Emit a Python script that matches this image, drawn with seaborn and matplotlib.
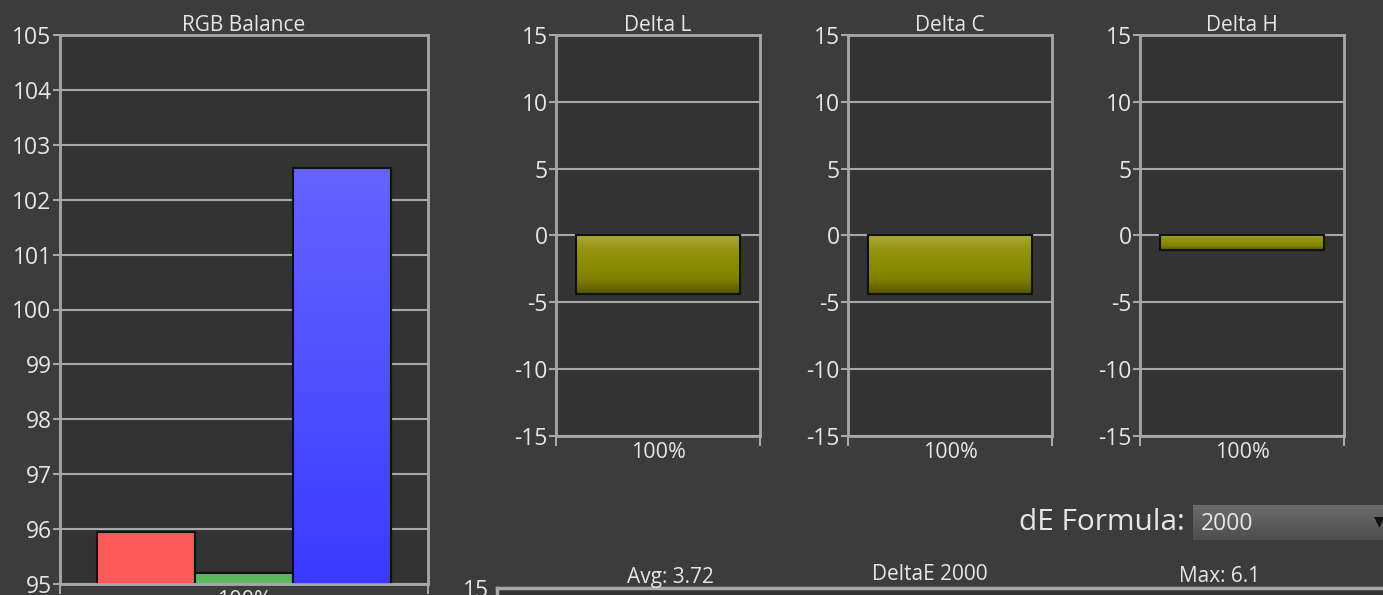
import numpy as np
import matplotlib
matplotlib.use("Agg")
import matplotlib.pyplot as plt
import matplotlib.colors as mcolors
import seaborn as sns

# --- data ---
rgb_channels = ["Red", "Green", "Blue"]
rgb_values = [95.95, 95.2, 102.57]
rgb_colors = ["#ff5a5a", "#5cb85c", "#4848ff"]

delta_titles = ["Delta L", "Delta C", "Delta H"]
delta_values = [-4.35, -4.35, -1.05]
x_label = "100%"

avg_de = "Avg: 3.72"
max_de = "Max: 6.1"
de_formula = "2000"

# --- style ---
sns.set_style("dark")
plt.rcParams["font.family"] = ["Open Sans", "DejaVu Sans"]
BG = "#3c3c3c"
PANEL = "#333333"
LINE = "#a8a8a8"
TXT = "#e6e6e6"

W, H = 1383, 595
fig = plt.figure(figsize=(W / 100, H / 100), dpi=100, facecolor=BG)


def px_axes(left, top, right, bottom):
    return fig.add_axes([left / W, 1 - bottom / H, (right - left) / W, (bottom - top) / H])


def style_axes(ax, ticks, ylim):
    ax.set_facecolor(PANEL)
    ax.set_ylim(*ylim)
    ax.set_xlim(-0.5, 0.5)
    ax.set_yticks(ticks)
    ax.set_yticklabels([str(t) for t in ticks])
    ax.grid(False)
    for t in ticks:
        ax.axhline(t, color=LINE, lw=1.5, zorder=0.5)
    for s in ax.spines.values():
        s.set_color(LINE)
        s.set_linewidth(2)
    ax.tick_params(axis="y", colors=LINE, labelcolor=TXT, labelsize=16.5,
                   length=5, width=1.5, pad=1, left=True)
    ax.set_xticks([0])
    ax.set_xticklabels([x_label])
    ax.tick_params(axis="x", length=0, labelcolor=TXT, labelsize=15.5, pad=4)
    ax.set_xticks([-0.5, 0.5], minor=True)
    ax.tick_params(axis="x", which="minor", length=7, width=1.5, color=LINE, bottom=True)
    ax.set_xlabel("")
    ax.set_ylabel("")


def gradient_fill(ax, patch, stops):
    # paint a vertical gradient inside a bar, keeping the axis limits
    xlim, ylim = ax.get_xlim(), ax.get_ylim()
    x0, y0 = patch.get_x(), patch.get_y()
    w, h = patch.get_width(), patch.get_height()
    ylo, yhi = min(y0, y0 + h), max(y0, y0 + h)
    ylo, yhi = max(ylo, ylim[0]), min(yhi, ylim[1])
    cmap = mcolors.LinearSegmentedColormap.from_list("g", stops)
    grad = np.linspace(0, 1, 256).reshape(-1, 1)
    ax.imshow(grad, cmap=cmap, aspect="auto", origin="lower",
              extent=[x0, x0 + w, ylo, yhi], zorder=2.1)
    ax.add_patch(plt.Rectangle((x0, ylo), w, yhi - ylo, fill=False, ec="#111111",
                               lw=1.5, zorder=2.2))
    ax.set_xlim(xlim)
    ax.set_ylim(ylim)


# --- RGB balance ---
ax = px_axes(60, 35, 428, 584)
sns.barplot(x=[x_label] * 3, y=rgb_values, hue=rgb_channels, palette=rgb_colors,
            width=0.8, saturation=1, ax=ax, legend=False, edgecolor="#111111",
            linewidth=1.5, zorder=2)
style_axes(ax, list(range(95, 106)), (95, 105))
ax.set_title("RGB Balance", color=TXT, fontsize=15, pad=3)
for p, name in zip(ax.patches, rgb_channels):
    if name == "Blue":
        gradient_fill(ax, p, ["#3a3aff", "#5050ff", "#6464ff"])

# --- Delta L / C / H ---
for left, title, val in zip([556, 848, 1140], delta_titles, delta_values):
    ax = px_axes(left, 35, left + 204, 436)
    sns.barplot(x=[x_label], y=[val], color="#8c8c00", width=0.8, saturation=1,
                ax=ax, edgecolor="#111111", linewidth=1.5, zorder=2)
    style_axes(ax, [-15, -10, -5, 0, 5, 10, 15], (-15, 15))
    ax.set_title(title, color=TXT, fontsize=15, pad=3)
    gradient_fill(ax, ax.patches[0],
                  ["#555500", "#808000", "#8c8c00", "#949412", "#aaaa35"])

# --- partially visible DeltaE chart at the bottom ---
axb = px_axes(497, 588, 1400, 900)
axb.set_facecolor(PANEL)
axb.set_ylim(0, 15)
axb.set_yticks([15])
axb.set_xticks([])
axb.grid(False)
for s in axb.spines.values():
    s.set_color(LINE)
    s.set_linewidth(2.5)
axb.tick_params(axis="y", colors=LINE, labelcolor=TXT, labelsize=16.5, length=5, pad=1)
fig.text(670 / W, 1 - 577 / H, avg_de, color=TXT, fontsize=15, ha="center", va="center")
fig.text(930 / W, 1 - 574 / H, "DeltaE 2000", color=TXT, fontsize=15, ha="center", va="center")
fig.text(1220 / W, 1 - 577 / H, max_de, color=TXT, fontsize=15, ha="center", va="center")

# --- dE formula selector ---
fig.text(1185 / W, 1 - 523 / H, "dE Formula:", color=TXT, fontsize=21.5,
         ha="right", va="center")
box_ax = fig.add_axes([1193 / W, 1 - 540 / H, 200 / W, 35 / H])
box_ax.set_axis_off()
box_grad = np.linspace(1, 0, 64).reshape(-1, 1)
box_ax.imshow(box_grad, cmap=mcolors.LinearSegmentedColormap.from_list(
    "b", ["#4e4e4e", "#6c6c6c"]), aspect="auto", extent=[0, 1, 0, 1])
fig.text(1201 / W, 1 - 524 / H, de_formula, color=TXT, fontsize=16.5,
         ha="left", va="center")
fig.text(1379 / W, 1 - 521 / H, "\u25bc", color="#111111", fontsize=10,
         ha="center", va="center", family=["DejaVu Sans"])

fig.savefig("out.png", dpi=100, facecolor=BG)
